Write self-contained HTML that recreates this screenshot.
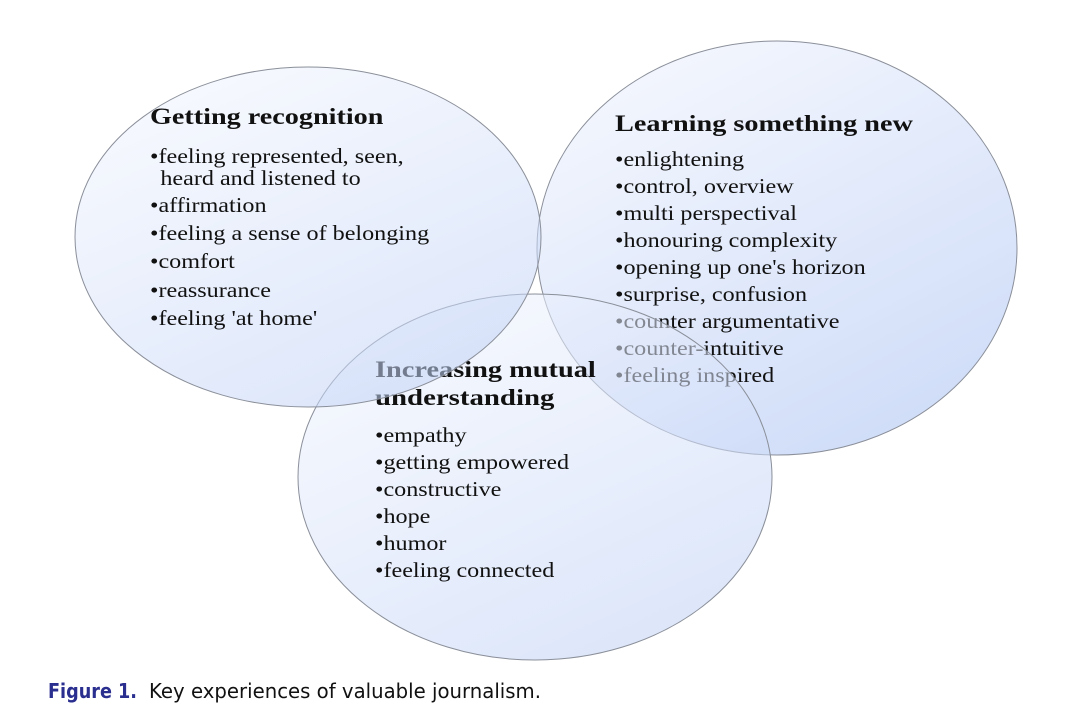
<!DOCTYPE html>
<html><head><meta charset="utf-8"><style>
html,body{margin:0;padding:0;background:#fff;width:1070px;height:720px;overflow:hidden}
svg text{font-family:"Liberation Serif",serif;font-size:21px;fill:#111}
.h{font-weight:bold;font-size:23px}
</style></head><body>
<svg width="1070" height="720" viewBox="0 0 1070 720">
<defs>
<linearGradient id="g" x1="0" y1="0" x2="0.6" y2="1">
<stop offset="0" stop-color="#f6f8fe"/>
<stop offset="1" stop-color="#c2d3f6"/>
</linearGradient>
</defs>
<ellipse cx="777" cy="248" rx="240" ry="207" fill="url(#g)" fill-opacity="0.75" stroke="#8a8f99" stroke-width="1"/>
<g transform="translate(615,0) scale(1.15,1)">
<text class="h" x="0" y="131" textLength="259" lengthAdjust="spacingAndGlyphs">Learning something new</text>
<text x="0" y="166">•enlightening</text>
<text x="0" y="193">•control, overview</text>
<text x="0" y="220">•multi perspectival</text>
<text x="0" y="247">•honouring complexity</text>
<text x="0" y="274">•opening up one's horizon</text>
<text x="0" y="301">•surprise, confusion</text>
<text x="0" y="328">•counter argumentative</text>
<text x="0" y="355">•counter-intuitive</text>
<text x="0" y="382">•feeling inspired</text>
</g>
<ellipse cx="535" cy="477" rx="237" ry="183" fill="url(#g)" fill-opacity="0.55" stroke="#8a8f99" stroke-width="1"/>
<g transform="translate(375,0) scale(1.15,1)">
<text class="h" x="0" y="377" textLength="192" lengthAdjust="spacingAndGlyphs">Increasing mutual</text>
<text class="h" x="0" y="405" textLength="156" lengthAdjust="spacingAndGlyphs">understanding</text>
<text x="0" y="442">•empathy</text>
<text x="0" y="469">•getting empowered</text>
<text x="0" y="496">•constructive</text>
<text x="0" y="523">•hope</text>
<text x="0" y="550">•humor</text>
<text x="0" y="577">•feeling connected</text>
</g>
<ellipse cx="308" cy="237" rx="233" ry="170" fill="url(#g)" fill-opacity="0.55" stroke="#8a8f99" stroke-width="1"/>
<g transform="translate(150,0) scale(1.15,1)">
<text class="h" x="0" y="124" textLength="203" lengthAdjust="spacingAndGlyphs">Getting recognition</text>
<text x="0" y="163">•feeling represented, seen,</text>
<text x="9" y="185">heard and listened to</text>
<text x="0" y="212">•affirmation</text>
<text x="0" y="240">•feeling a sense of belonging</text>
<text x="0" y="268">•comfort</text>
<text x="0" y="297">•reassurance</text>
<text x="0" y="325">•feeling 'at home'</text>
</g>
<text x="48" y="698" textLength="89" lengthAdjust="spacingAndGlyphs" style="font-family:'DejaVu Sans',sans-serif;font-size:20px;font-weight:bold;fill:#2a2f8f">Figure 1.</text>
<text x="149" y="698" textLength="392" lengthAdjust="spacingAndGlyphs" style="font-family:'DejaVu Sans',sans-serif;font-size:20px;fill:#111">Key experiences of valuable journalism.</text>
</svg>
</body></html>
